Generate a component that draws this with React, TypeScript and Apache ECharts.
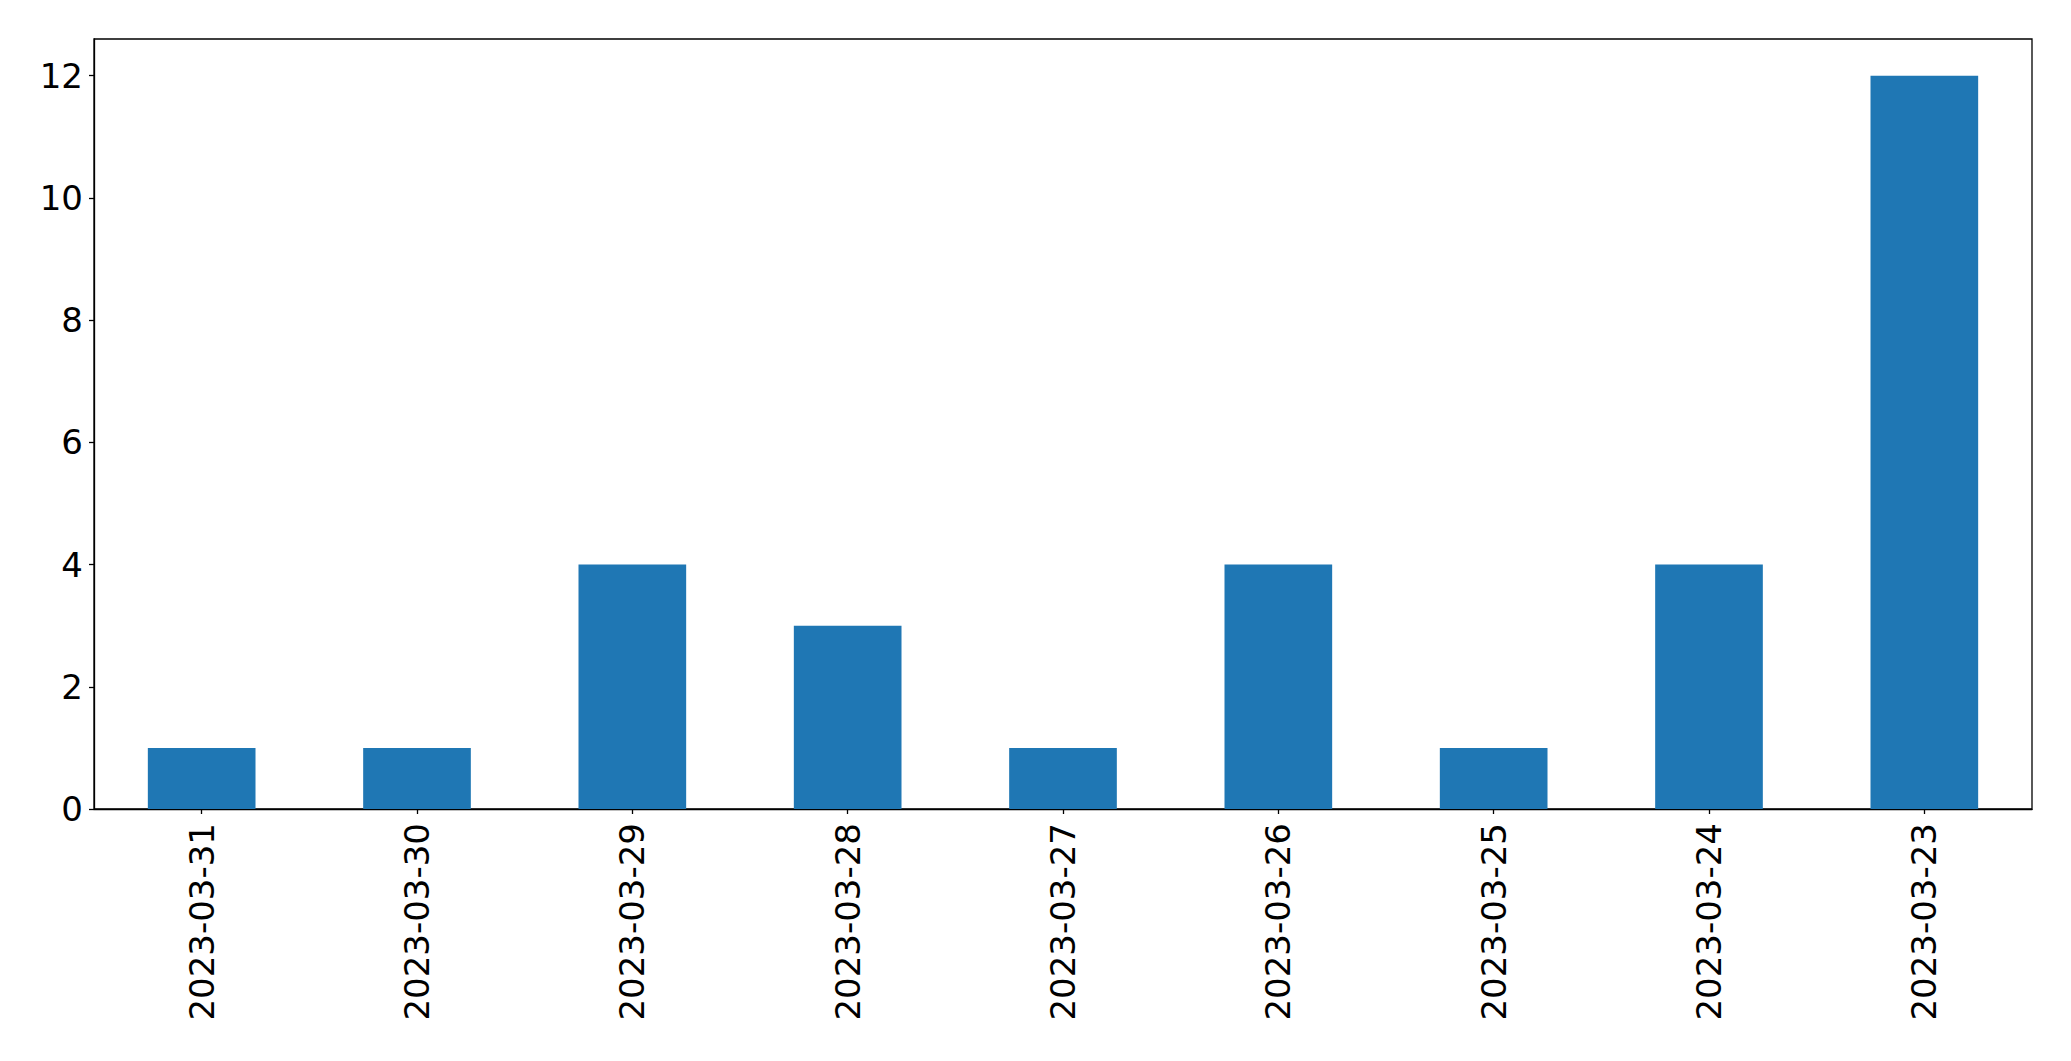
import React, { useEffect, useRef } from "react";
import * as echarts from "echarts";

const categories = [
  "2023-03-31",
  "2023-03-30",
  "2023-03-29",
  "2023-03-28",
  "2023-03-27",
  "2023-03-26",
  "2023-03-25",
  "2023-03-24",
  "2023-03-23",
];
const counts = [1, 1, 4, 3, 1, 4, 1, 4, 12];
const yTicks = [0, 2, 4, 6, 8, 10, 12];

export default function App() {
  const ref = useRef<HTMLDivElement>(null);
  useEffect(() => {
    if (!ref.current) return;
    const chart = echarts.init(ref.current, null, { renderer: "svg" });
    const font = "DejaVu Sans";
    chart.setOption({
      animation: false,
      backgroundColor: "#ffffff",
      grid: {
        left: 94,
        right: 39,
        top: 39,
        bottom: 252,
        show: true,
        borderColor: "#000000",
        borderWidth: 1.3,
        backgroundColor: "transparent",
      },
      xAxis: {
        type: "category",
        data: categories,
        boundaryGap: true,
        axisLine: { show: true, lineStyle: { color: "#000000", width: 1.3 } },
        axisTick: {
          show: true,
          alignWithLabel: true,
          length: 5,
          lineStyle: { color: "#000000", width: 1.3 },
        },
        axisLabel: {
          rotate: 90,
          fontSize: 34,
          fontFamily: font,
          color: "#000000",
          margin: 14,
        },
        splitLine: { show: false },
      },
      yAxis: {
        type: "value",
        min: 0,
        max: 12.6,
        interval: 2,
        axisLine: { show: true, lineStyle: { color: "#000000", width: 1.3 } },
        axisTick: {
          show: true,
          length: 5,
          customValues: yTicks,
          lineStyle: { color: "#000000", width: 1.3 },
        },
        axisLabel: {
          fontSize: 34,
          fontFamily: font,
          color: "#000000",
          margin: 11,
          customValues: yTicks,
          showMaxLabel: true,
        },
        splitLine: { show: false },
      },
      series: [
        {
          type: "bar",
          data: counts,
          barWidth: "50%",
          itemStyle: { color: "#1f77b4" },
        },
      ],
    });
    return () => chart.dispose();
  }, []);
  return (
    <div
      ref={ref}
      style={{ position: "fixed", left: 0, top: 0, width: 2071, height: 1061 }}
    />
  );
}
